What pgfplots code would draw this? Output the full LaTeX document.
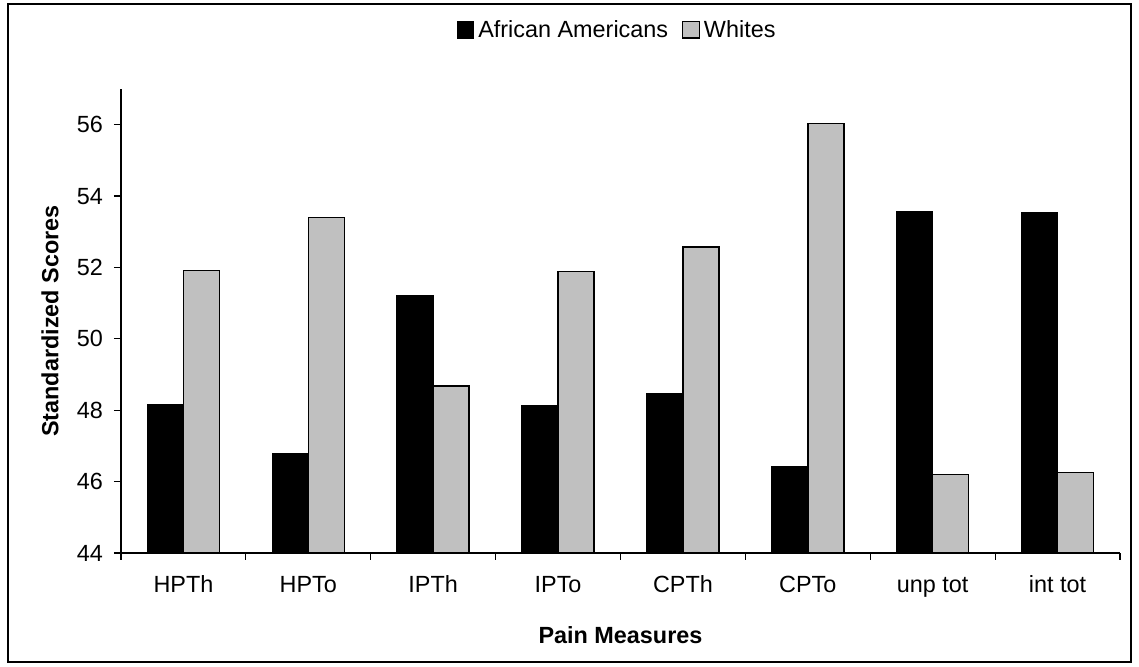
\documentclass[border=0pt]{standalone}
\usepackage{fontspec}
\setmainfont{Liberation Sans}
\usepackage{pgfplots}
\pgfplotsset{compat=1.18}
\definecolor{barGray}{RGB}{192,192,192}
\begin{document}
\begin{tikzpicture}
\useasboundingbox (0pt,0pt) rectangle (569.5pt,333.5pt);
\draw[line width=0.8pt] (4pt,2.5pt) rectangle (565.5pt,331.5pt);
\begin{axis}[
  at={(60.5pt,57pt)}, anchor=south west,
  scale only axis, width=499.5pt, height=232pt,
  font=\fontsize{11.7}{14}\selectfont,
  /pgf/number format/assume math mode=true,
  ymin=44, ymax=57, ytick={44,46,...,56},
  xmin=0.5, xmax=8.5, xtick={0.5,1.5,...,8.5},
  x tick label as interval,
  xticklabels={HPTh,HPTo,IPTh,IPTo,CPTh,CPTo,unp tot,int tot},
  axis x line*=bottom, axis y line*=left,
  axis line style={line width=0.6pt},
  tick style={line width=0.6pt, black},
  tick align=outside, major tick length=3.5pt,
  xticklabel style={yshift=-4pt, text height=8.6pt, text depth=2.6pt},
  yticklabel style={xshift=-2pt},
  ybar=0pt, bar width=18pt,
  xlabel={\textbf{Pain Measures}},
  ylabel={\textbf{Standardized Scores}},
  xlabel style={at={(axis description cs:0.5,-0.177)}, anchor=center},
  ylabel style={at={(axis description cs:-0.071,0.5)}, anchor=center},
  legend style={at={(axis description cs:0.4975,1.127)}, anchor=center,
    draw=none, legend columns=2, font=\fontsize{11.7}{14}\selectfont,
    /tikz/every even column/.append style={column sep=5pt},
    legend cell align=left},
  legend image code/.code={\draw[#1, line width=0.6pt] (0pt,-4pt) rectangle (8.3pt,4.3pt);},
]
\addplot[fill=black, draw=black, line width=0.75pt,
  legend image code/.code={\draw[fill=black,draw=black,line width=0.6pt] (0pt,-4pt) rectangle (8.3pt,4.3pt);}]
  coordinates {(1,48.15) (2,46.78) (3,51.22) (4,48.13) (5,48.47) (6,46.43) (7,53.56) (8,53.52)};
\addplot[fill=barGray, draw=black, line width=0.75pt,
  legend image code/.code={\draw[fill=barGray,draw=black,line width=0.6pt] (0pt,-4pt) rectangle (8.3pt,4.3pt);}]
  coordinates {(1,51.92) (2,53.40) (3,48.68) (4,51.89) (5,52.57) (6,56.03) (7,46.20) (8,46.25)};
\legend{African Americans, Whites}
\end{axis}
\end{tikzpicture}
\end{document}
